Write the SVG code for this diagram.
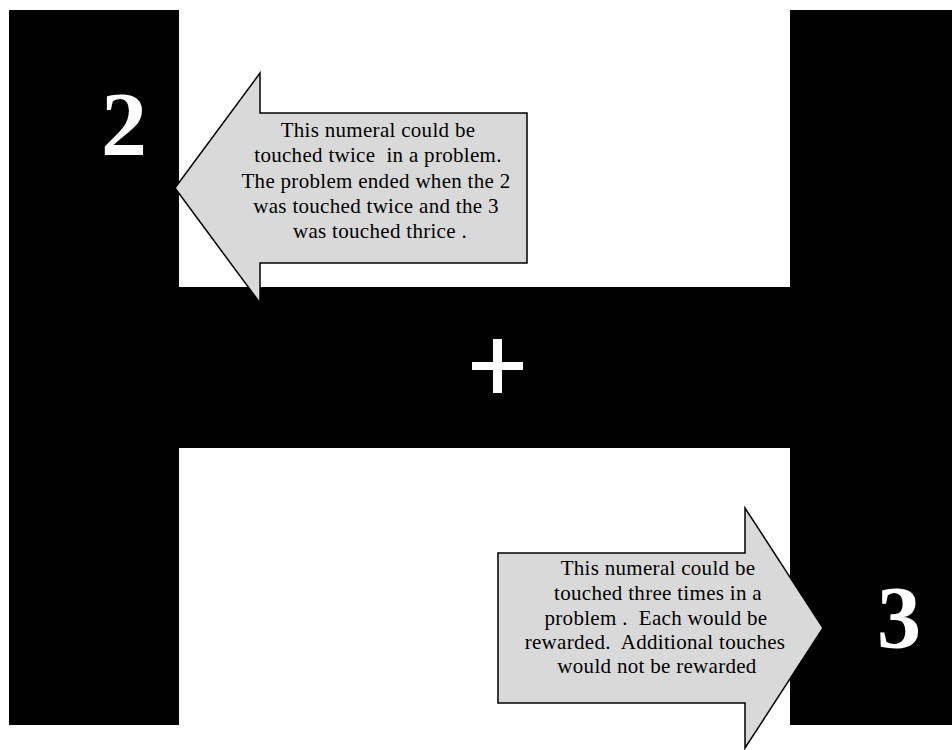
<svg xmlns="http://www.w3.org/2000/svg" width="952" height="750" viewBox="0 0 952 750">
<style>
.bar{fill:#000}
.arrow{fill:#d9d9d9;stroke:#000;stroke-width:1.5;stroke-linejoin:miter}
.lbl{font-family:"Liberation Serif","Times New Roman",serif;font-size:21px;letter-spacing:0.3px;fill:#000;text-anchor:middle;white-space:pre}
.num{font-family:"Liberation Serif","Times New Roman",serif;font-weight:bold;fill:#fff;text-anchor:middle}
</style>
<rect width="952" height="750" fill="#fff"/>
<g id="H">
<rect class="bar" x="9" y="10" width="170" height="715"/>
<rect class="bar" x="790" y="10" width="162" height="715"/>
<rect class="bar" x="179" y="287" width="611" height="161"/>
</g>
<g id="fixation">
<rect x="472" y="362" width="51" height="8" fill="#fff"/>
<rect x="493" y="339" width="9" height="54" fill="#fff"/>
</g>
<g id="numeral2"><text class="num" x="124" y="155" font-size="92">2</text></g>
<g id="numeral3"><text class="num" x="899" y="647" font-size="88">3</text></g>
<g id="connectors">
<g id="arrowLeft">
<polygon class="arrow" points="175,188 260,73 260,113 527,113 527,263 260,263 260,303"/>
<text class="lbl" x="378" y="137">This numeral could be</text>
<text class="lbl" x="378" y="162">touched twice  in a problem.</text>
<text class="lbl" x="376" y="188">The problem ended when the 2</text>
<text class="lbl" x="376" y="213">was touched twice and the 3</text>
<text class="lbl" x="380" y="238">was touched thrice .</text>
</g>
<g id="arrowRight">
<polygon class="arrow" points="498,553 745,553 745,508 823,628 745,748 745,703 498,703"/>
<text class="lbl" x="658" y="575">This numeral could be</text>
<text class="lbl" x="658" y="600">touched three times in a</text>
<text class="lbl" x="656" y="625">problem .  Each would be</text>
<text class="lbl" x="655" y="649">rewarded.  Additional touches</text>
<text class="lbl" x="657" y="673">would not be rewarded</text>
</g>
</g>
</svg>
